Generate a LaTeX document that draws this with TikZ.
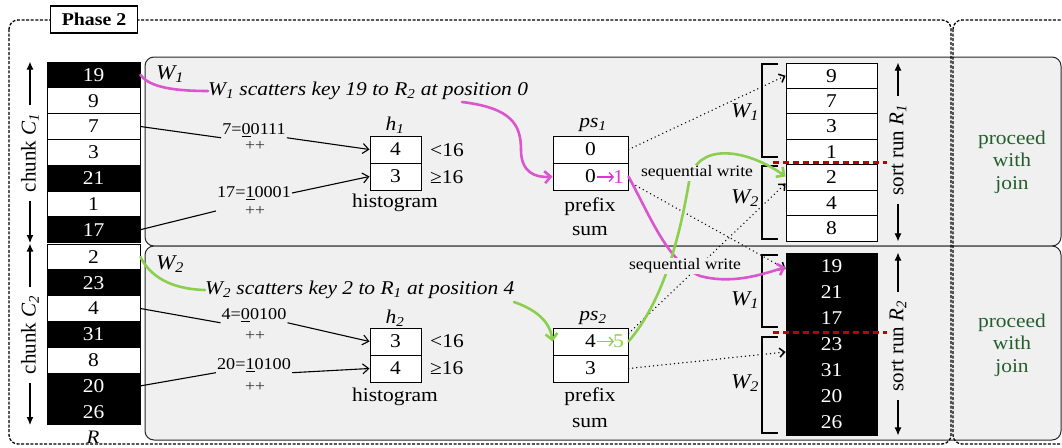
\documentclass[tikz,border=0pt]{standalone}
\usepackage{fontspec}
\setmainfont[FakeStretch=1.1]{Liberation Serif}
\newfontfamily\vfont{Liberation Serif}
\usetikzlibrary{arrows.meta}
\definecolor{panel}{RGB}{240,240,240}
\definecolor{mag}{RGB}{218,86,206}
\definecolor{magtxt}{RGB}{226,52,214}
\definecolor{grn}{RGB}{140,206,78}
\definecolor{dred}{RGB}{192,0,0}
\definecolor{dgreen}{RGB}{35,95,45}
\newcommand{\fsz}[1]{\fontsize{#1}{#1}\selectfont}
\begin{document}
\begin{tikzpicture}[x=1pt,y=-1pt,
  rcell/.style={draw=black, line width=0.8pt, minimum width=93pt, minimum height=25.8pt, inner sep=0pt, font=\fsz{19.5}},
  scell/.style={draw=black, line width=0.8pt, minimum width=91pt, inner sep=0pt, font=\fsz{19.5}},
  bcell/.style={draw=black, fill=white, line width=1pt, minimum height=27pt, inner sep=0pt, font=\fsz{19.5}},
  txt/.style={font=\fsz{19.5}, inner sep=1pt},
  lbl/.style={font=\fsz{16.5}, inner sep=1pt},
  pp/.style={font=\fsz{16}, inner sep=1pt, text=black!80},
  itl/.style={font=\fsz{21}\itshape, inner sep=1pt},
  harrow/.style={line width=1.1pt, -{Straight Barb[length=6pt,width=10pt]}},
  dots/.style={line width=1.5pt, dash pattern=on 0pt off 4.2pt, line cap=round, -{Straight Barb[length=5pt,width=9pt]}},
  brk/.style={line width=1.6pt},
  vlab/.style={rotate=90, font=\vfont\fsz{21}, inner xsep=8pt, inner ysep=1pt},
  varrow/.style={line width=1.1pt, -{Latex[length=8pt,width=7pt]}},
  magc/.style={mag, line width=2.6pt, line cap=round},
  grnc/.style={grn, line width=2.6pt, line cap=round},
  barb/.style={-{Straight Barb[length=6pt,width=12pt]}},
  glyph/.style={line width=1.3pt, -{Straight Barb[length=4pt,width=9pt]}},
  frame/.style={line width=1.3pt, dash pattern=on 3pt off 1.6pt, rounded corners=9pt},
  panelbox/.style={fill=panel, draw=black!85, line width=1pt, rounded corners=9pt},
  sw/.style={font=\fsz{16}, fill=panel, inner sep=1pt},
  redline/.style={dred, line width=3pt, dash pattern=on 6pt off 4pt},
  joinnote/.style={font=\fsz{19.5}, text=dgreen, align=center}
]
\useasboundingbox (0,0) rectangle (1062,447);

% panels
\draw[panelbox] (145,57) rectangle (1061,246);
\draw[panelbox] (145,246) rectangle (1061,440);

% dashed frames
\draw[frame] (9,20) rectangle (951,444);
\draw[frame] (953,20) rectangle (1090,444);
\node[draw, fill=white, line width=1.3pt, font=\fsz{18}\bfseries, minimum width=87pt, minimum height=27pt, inner sep=0pt] (ph) at (94,19.5) {Phase 2};

% column R
\foreach \v/\f/\t [count=\i] in {19/black/white,9/white/black,7/white/black,3/white/black,21/black/white,1/white/black,17/black/white}
  \node[rcell, fill=\f, text=\t] (r\i) at (93.5,{62+25.8*(\i-0.5)}) {\v};
\foreach \v/\f/\t [count=\i from 8] in {2/white/black,23/black/white,4/white/black,31/black/white,8/white/black,20/black/white,26/black/white}
  \node[rcell, fill=\f, text=\t] (r\i) at (93.5,{244+25.8*(\i-7.5)}) {\v};
\node[font=\fsz{19}\itshape, inner sep=0pt] (rl) at (93,437) {R};

% chunk labels
\node[vlab] (c1) at (30,153) {chunk \textit{C}\textsubscript{\textit{1}}};
\draw[varrow] (c1.east) -- (c1.east |- r1.north);
\draw[varrow] (c1.west) -- (c1.west |- r7.south);
\node[vlab] (c2) at (30,335) {chunk \textit{C}\textsubscript{\textit{2}}};
\draw[varrow] (c2.east) -- (c2.east |- r8.north);
\draw[varrow] (c2.west) -- (c2.west |- r14.south);

% worker labels
\node[itl, anchor=west] (w1) at (155,74) {W\textsubscript{1}};
\node[itl, anchor=west] (w2) at (155,264) {W\textsubscript{2}};
\node[anchor=west, font=\fsz{19.5}\itshape, inner sep=0pt] (s1) at (208,91) {W\textsubscript{1} scatters key 19 to R\textsubscript{2} at position 0};
\node[anchor=west, font=\fsz{19.5}\itshape, inner sep=0pt] (s2) at (205,290) {W\textsubscript{2} scatters key 2 to R\textsubscript{1} at position 4};

% histograms
\node[bcell, minimum width=51pt] (h1a) at (395.5,149.5) {4};
\node[bcell, minimum width=51pt] (h1b) at (395.5,176.5) {3};
\node[txt, font=\fsz{19.5}\itshape] (h1l) at (395,125) {h\textsubscript{1}};
\node[txt, anchor=west] (lt1) at (429,150) {<16};
\node[txt, anchor=west] (ge1) at (429,177) {≥16};
\node[txt] (hg1) at (395,203) {histogram};

\node[bcell, minimum width=51pt] (h2a) at (395.5,341.5) {3};
\node[bcell, minimum width=51pt] (h2b) at (395.5,368.5) {4};
\node[txt, font=\fsz{19.5}\itshape] (h2l) at (395,318) {h\textsubscript{2}};
\node[txt, anchor=west] (lt2) at (429,341) {<16};
\node[txt, anchor=west] (ge2) at (429,368) {≥16};
\node[txt] (hg2) at (395,397) {histogram};

% prefix sums
\node[bcell, minimum width=75pt] (ps1a) at (590.5,149.5) {0};
\node[bcell, minimum width=75pt] (ps1b) at (590.5,176.5) {0};
\coordinate (p1s) at (597,177);
\coordinate (p1e) at (614,177);
\draw[glyph, magtxt] (p1s) -- (p1e);
\node[anchor=west, inner sep=0pt, font=\fsz{19.5}, text=magtxt] (p1n) at (613,177) {1};
\node[txt, font=\fsz{19.5}\itshape] (ps1l) at (593,125) {ps\textsubscript{1}};
\node[txt] (pf1) at (590,207) {prefix};
\node[txt] (su1) at (590,231) {sum};

\node[bcell, minimum width=75pt] (ps2a) at (590.5,341.5) {4};
\node[bcell, minimum width=75pt] (ps2b) at (590.5,368.5) {3};
\coordinate (p2s) at (597,341.5);
\coordinate (p2e) at (614,341.5);
\draw[glyph, grn] (p2s) -- (p2e);
\node[anchor=west, inner sep=0pt, font=\fsz{19.5}, text=grn] (p2n) at (613,341.5) {5};
\node[txt, font=\fsz{19.5}\itshape] (ps2l) at (593,318) {ps\textsubscript{2}};
\node[txt] (pf2) at (590,397) {prefix};
\node[txt] (su2) at (590,423) {sum};

% key labels
\node[lbl] (k7) at (254,130) {7=\underline{0}0111};
\node[pp] (k7p) at (255,146) {++};
\node[lbl] (k17) at (254,193) {17=\underline{1}0001};
\node[pp] (k17p) at (255,211) {++};
\node[lbl] (k4) at (254,315) {4=\underline{0}0100};
\node[pp] (k4p) at (255,336) {++};
\node[lbl] (k20) at (254,365) {20=\underline{1}0100};
\node[pp] (k20p) at (255,387) {++};

\draw[line width=1.1pt] (r3.east) -- (k7.south west);
\draw[harrow] (k7.south east) -- (h1a.west);
\draw[line width=1.1pt] (r7.east) -- (k17.west |- k17p);
\draw[harrow] (k17.east) -- (h1b.west);
\draw[line width=1.1pt] (r10.east) -- (k4.south west);
\draw[harrow] (k4.south east) -- (h2a.west);
\draw[line width=1.1pt] (r13.east) -- (k20.south west);
\draw[harrow] (k20.south east) -- (h2b.west);

% sort runs
\foreach \v [count=\i] in {9,7,3,1,2,4,8}
  \node[scell, fill=white, minimum height=25.43pt] (a\i) at (831.5,{63+25.43*(\i-0.5)}) {\v};
\foreach \v [count=\i] in {19,21,17,23,31,20,26}
  \node[scell, fill=black, text=white, minimum height=26pt] (b\i) at (831.5,{253+26*(\i-0.5)}) {\v};

\draw[brk] (778,64) -- (762,64) -- (762,157) -- (778,157);
\draw[brk] (778,166) -- (762,166) -- (762,239) -- (778,239);
\draw[brk] (778,255) -- (762,255) -- (762,327) -- (778,327);
\draw[brk] (778,337) -- (762,337) -- (762,433) -- (778,433);
\node[itl] (bw1) at (745,112) {W\textsubscript{1}};
\node[itl] (bw2) at (745,198) {W\textsubscript{2}};
\node[itl] (bw3) at (745,300) {W\textsubscript{1}};
\node[itl] (bw4) at (745,383) {W\textsubscript{2}};

\node[vlab] (sr1) at (898,150) {sort run \textit{R}\textsubscript{\textit{1}}};
\draw[varrow] (sr1.east) -- (sr1.east |- a1.north);
\draw[varrow] (sr1.west) -- (sr1.west |- a7.south);
\node[vlab] (sr2) at (898,346) {sort run \textit{R}\textsubscript{\textit{2}}};
\draw[varrow] (sr2.east) -- (sr2.east |- b1.north);
\draw[varrow] (sr2.west) -- (sr2.west |- b7.south);

% dotted moves
\draw[dots] (ps1a.east) -- (a1.west);
\draw[dots] ([yshift=-5pt]ps1b.east) -- ([yshift=-3pt]b1.west);
\draw[dots] ([yshift=8pt]ps2a.east) -- ([yshift=-6pt]a5.west);
\draw[dots] (ps2b.east) -- ([yshift=-8pt]b4.west);

% coloured curves
\coordinate (m2) at (462,102);
\coordinate (g2) at (514,302);
\draw[magc] (r1.east) .. controls (148,85) and (166,91) .. (s1.west);
\draw[magc, barb] (m2) .. controls (512,108) and (521,125) .. (521,150) .. controls (521,172) and (535,178) .. (ps1b.west);
\draw[magc, barb] (ps1b.east) .. controls (652,220) and (668,262) .. (700,276) .. controls (730,284) and (758,276) .. ([yshift=-1pt]b1.west);
\draw[grnc] (r8.east) .. controls (150,276) and (170,289) .. (s2.west);
\draw[grnc, barb] (g2) .. controls (537,310) and (550,322) .. (ps2a.west);
\draw[grnc, barb] (ps2a.east) .. controls (664,300) and (680,235) .. (689,182) .. controls (696,142) and (745,148) .. ([yshift=1pt]a5.west);

\node[sw] (sw1) at (697,173) {sequential write};
\node[sw] (sw2) at (685,266) {sequential write};

% split lines
\draw[redline] (773,162) -- (887,162);
\draw[redline] (773,332) -- (887,332);

% join
\node[joinnote] (j1) at (1012,162) {proceed\\[3pt]with\\[3pt]join};
\node[joinnote] (j2) at (1012,345) {proceed\\[3pt]with\\[3pt]join};
\end{tikzpicture}
\end{document}
